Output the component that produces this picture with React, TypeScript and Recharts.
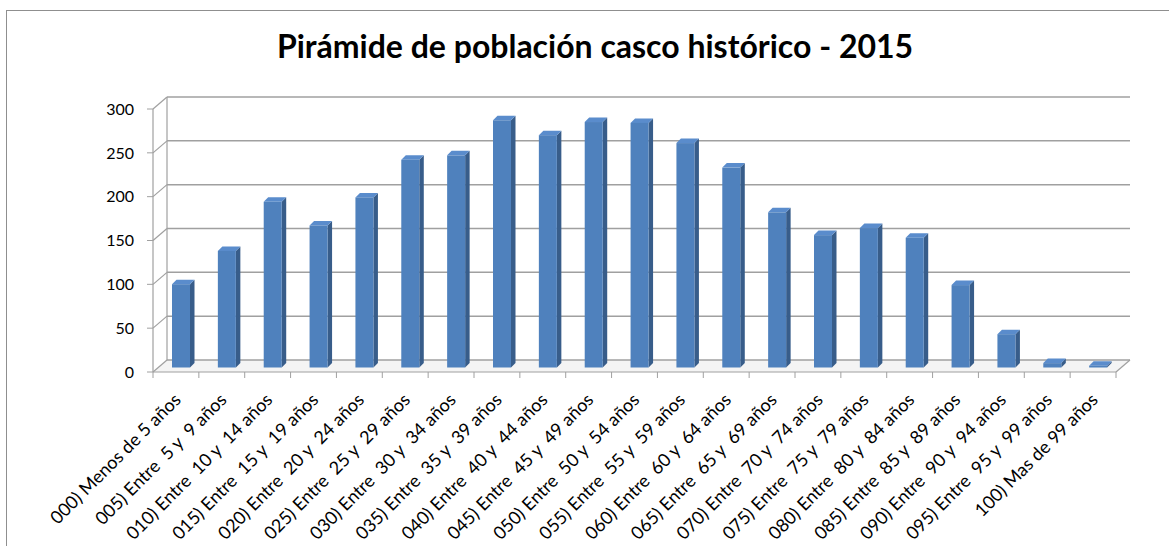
import React from 'react';
import { BarChart, Bar, XAxis, YAxis, CartesianGrid } from 'recharts';

const categories = [
  '000) Menos de 5 años',
  '005) Entre  5 y  9 años',
  '010) Entre  10 y  14 años',
  '015) Entre  15 y  19 años',
  '020) Entre  20 y  24 años',
  '025) Entre  25 y  29 años',
  '030) Entre  30 y  34 años',
  '035) Entre  35 y  39 años',
  '040) Entre  40 y  44 años',
  '045) Entre  45 y  49 años',
  '050) Entre  50 y  54 años',
  '055) Entre  55 y  59 años',
  '060) Entre  60 y  64 años',
  '065) Entre  65 y  69 años',
  '070) Entre  70 y  74 años',
  '075) Entre  75 y  79 años',
  '080) Entre  80 y  84 años',
  '085) Entre  85 y  89 años',
  '090) Entre  90 y  94 años',
  '095) Entre  95 y  99 años',
  '100) Mas de 99 años',
];
const values = [95, 133, 189, 162, 194, 237, 242, 282, 265, 280, 279, 256, 228, 177, 151, 159, 148, 94, 38, 5, 2];
const yTicks = [0, 50, 100, 150, 200, 250, 300];
const title = 'Pirámide de población casco histórico - 2015';

const data = categories.map((name, i) => ({ name, value: values[i] }));

const W = 1169;
const H = 546;
const Y_AXIS_W = 60;
const X_AXIS_H = 150;
const margin = { top: 109, right: 53, left: 93, bottom: 24 };
const PLOT_LEFT = margin.left + Y_AXIS_W;
const PLOT_RIGHT = W - margin.right;
const PLOT_TOP = margin.top;
const PLOT_BOTTOM = H - margin.bottom - X_AXIS_H;
const PLOT_W = PLOT_RIGHT - PLOT_LEFT;
const DX = 14;
const DY = 12;
const GRID = '#a0a0a0';
const FONT = 'Lato, "Open Sans", sans-serif';

const Bar3D = (props: any) => {
  const { x, y, width, height } = props;
  if (x == null || y == null || height == null) return null;
  const ox = 5;
  const oy = 4.5;
  const d = 4.5;
  const fx = x + ox;
  const fy = y - oy;
  const h = Math.max(height, 0);
  return (
    <g>
      <polygon
        points={`${fx + width},${fy} ${fx + width + d},${fy - d} ${fx + width + d},${fy + h - d} ${fx + width},${fy + h}`}
        fill="#385d8a"
      />
      <polygon
        points={`${fx},${fy} ${fx + d},${fy - d} ${fx + width + d},${fy - d} ${fx + width},${fy}`}
        fill="#5a8ccc"
      />
      <rect x={fx} y={fy} width={width} height={h} fill="#4f81bd" />
    </g>
  );
};

const gridLine = (p: any) => {
  const { x1, y1, x2, y2 } = p;
  const isFloor = Math.abs(y1 - PLOT_BOTTOM) < 0.5;
  return (
    <g key={p.key}>
      {isFloor && (
        <polygon
          points={`${x1},${y1} ${x1 + DX},${y1 - DY} ${x2 + DX},${y2 - DY} ${x2},${y2}`}
          fill="#f4f4f4"
        />
      )}
      <line x1={x1} y1={y1} x2={x1 + DX} y2={y1 - DY} stroke={GRID} strokeWidth={1.2} />
      <line x1={x1 + DX} y1={y1 - DY} x2={x2 + DX} y2={y2 - DY} stroke={GRID} strokeWidth={1.5} />
      {isFloor && (
        <>
          <line x1={x2} y1={y2} x2={x2 + DX} y2={y2 - DY} stroke={GRID} strokeWidth={1.2} />
          <line x1={x1 + DX} y1={PLOT_BOTTOM - DY} x2={x1 + DX} y2={PLOT_TOP - DY} stroke={GRID} strokeWidth={1.2} />
        </>
      )}
    </g>
  );
};

const XTick = (props: any) => {
  const { x, payload, index } = props;
  const step = PLOT_W / categories.length;
  const lx = x + 6;
  const ly = PLOT_BOTTOM + 29;
  return (
    <g>
      <line x1={x - step / 2} y1={PLOT_BOTTOM} x2={x - step / 2} y2={PLOT_BOTTOM + 6} stroke={GRID} />
      {index === categories.length - 1 && (
        <line x1={x + step / 2} y1={PLOT_BOTTOM} x2={x + step / 2} y2={PLOT_BOTTOM + 6} stroke={GRID} />
      )}
      <text
        x={lx}
        y={ly}
        transform={`rotate(-45 ${lx} ${ly})`}
        textAnchor="end"
        fontSize={18}
        fontFamily={FONT}
        fill="#000"
        style={{ whiteSpace: 'pre' }}
      >
        {payload.value}
      </text>
    </g>
  );
};

export default function App() {
  return (
    <div style={{ position: 'absolute', left: 0, top: 0, width: W, height: H, overflow: 'hidden', background: '#fff' }}>
      <div
        style={{
          position: 'absolute',
          left: 6,
          top: 10,
          width: W + 40,
          height: H + 40,
          border: '1px solid #8f8f8f',
          boxSizing: 'border-box',
        }}
      />
      <div
        style={{
          position: 'absolute',
          left: 0,
          width: 1190,
          top: 27,
          textAlign: 'center',
          fontFamily: FONT,
          fontWeight: 700,
          fontSize: 32,
          lineHeight: '38px',
          color: '#000',
        }}
      >
        {title}
      </div>
      <div style={{ position: 'absolute', left: 0, top: 0 }}>
        <BarChart width={W} height={H} data={data} margin={margin} barSize={18}>
          <CartesianGrid horizontal={gridLine} vertical={false} />
          <YAxis
            width={Y_AXIS_W}
            domain={[0, 300]}
            ticks={yTicks}
            interval={0}
            axisLine={{ stroke: GRID, strokeWidth: 1.2 }}
            tickLine={{ stroke: GRID }}
            tickSize={6}
            tickMargin={13}
            tick={{ fill: '#000', fontSize: 16, fontFamily: FONT }}
          />
          <XAxis
            dataKey="name"
            height={X_AXIS_H}
            interval={0}
            axisLine={{ stroke: GRID, strokeWidth: 1.2 }}
            tickLine={false}
            tick={<XTick />}
          />
          <Bar dataKey="value" isAnimationActive={false} shape={<Bar3D />} />
        </BarChart>
      </div>
    </div>
  );
}
